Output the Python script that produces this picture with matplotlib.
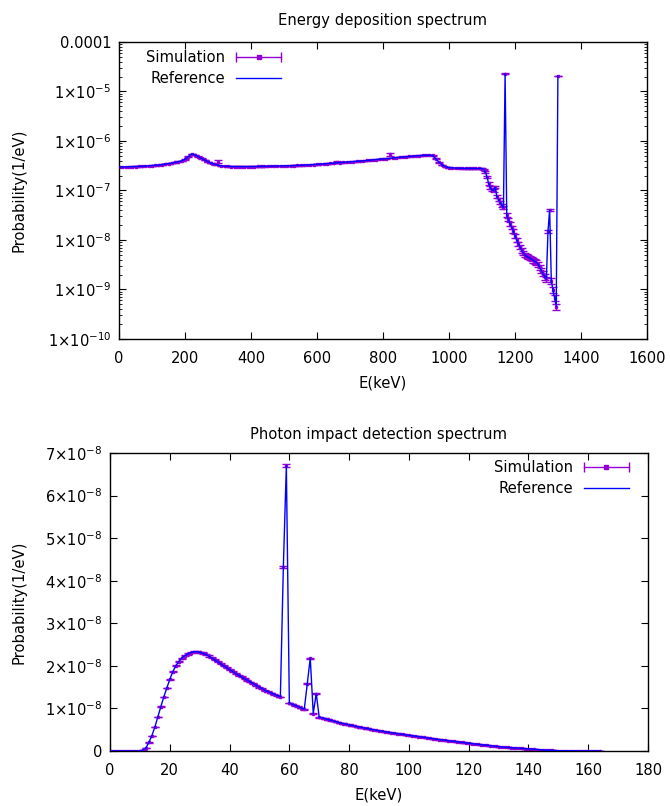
import numpy as np
import matplotlib
matplotlib.use("Agg")
import matplotlib.pyplot as plt
from matplotlib.lines import Line2D
from matplotlib.legend_handler import HandlerBase
from matplotlib.ticker import FixedLocator, FuncFormatter, LogLocator, NullFormatter

# ---------------- data: energy deposition spectrum (values in 1e-7 /eV) ----------------
dep_E_cont = list(range(0, 1101, 10))
dep_ref_cont = [
    3.00, 3.00, 3.01, 3.02, 3.03, 3.05, 3.07, 3.09, 3.12, 3.15,
    3.19, 3.23, 3.28, 3.34, 3.41, 3.49, 3.58, 3.69, 3.82, 3.98,
    4.25, 4.85, 5.45, 5.25, 4.85, 4.45, 4.10, 3.80, 3.55, 3.38,
    3.25, 3.16, 3.10, 3.07, 3.05, 3.04, 3.03, 3.03, 3.03, 3.03,
    3.04, 3.05, 3.06, 3.07, 3.08, 3.09, 3.10, 3.11, 3.12, 3.13,
    3.14, 3.15, 3.17, 3.19, 3.21, 3.23, 3.25, 3.28, 3.31, 3.34,
    3.37, 3.41, 3.45, 3.49, 3.53, 3.57, 3.61, 3.65, 3.70, 3.74,
    3.78, 3.83, 3.88, 3.93, 3.98, 4.04, 4.10, 4.16, 4.22, 4.28,
    4.35, 4.42, 4.49, 4.56, 4.63, 4.70, 4.77, 4.84, 4.90, 4.96,
    5.02, 5.07, 5.12, 5.16, 5.18, 5.10, 4.40, 3.70, 3.25, 3.00,
    2.90, 2.86, 2.83, 2.82, 2.81, 2.80, 2.80, 2.80, 2.80, 2.79,
    2.78,
]
dep_E_tail = [1105, 1110, 1115, 1120, 1125, 1130, 1135, 1140, 1145, 1150,
              1155, 1160, 1165, 1170, 1175, 1180, 1185, 1190, 1195, 1200,
              1205, 1210, 1215, 1220, 1225, 1230, 1235, 1240, 1245, 1250,
              1255, 1260, 1265, 1270, 1275, 1280, 1285, 1290, 1295, 1300,
              1305, 1310, 1315, 1320, 1325, 1330]
dep_ref_tail = [2.70, 2.40, 1.90, 1.40, 1.15, 1.02, 1.00, 1.17, 0.75, 0.65,
                0.57, 0.50, 0.45, 230.0, 0.32, 0.26, 0.21, 0.18, 0.15, 0.12,
                0.10, 0.085, 0.072, 0.062, 0.055, 0.050, 0.047, 0.045, 0.043, 0.041,
                0.039, 0.037, 0.035, 0.032, 0.028, 0.024, 0.021, 0.018, 0.016, 0.15,
                0.41, 0.015, 0.0098, 0.0068, 0.0045, 206.0]
dep_rel_err_cont = 0.01
dep_rel_err_tail = [0.03, 0.04, 0.05, 0.06, 0.06, 0.06, 0.07, 0.06, 0.07, 0.07,
                    0.07, 0.08, 0.08, 0.02, 0.08, 0.08, 0.08, 0.09, 0.09, 0.09,
                    0.09, 0.09, 0.10, 0.10, 0.10, 0.10, 0.10, 0.10, 0.10, 0.10,
                    0.10, 0.10, 0.11, 0.11, 0.11, 0.11, 0.12, 0.12, 0.12, 0.06,
                    0.05, 0.12, 0.12, 0.13, 0.14, 0.02]
# simulation points that sit off the reference curve
dep_out_E = [300, 660, 820]
dep_out_sim = [3.80, 3.80, 5.40]
dep_out_err = [0.25, 0.20, 0.35]

# ---------------- data: photon impact detection spectrum (values in 1e-8 /eV) ----------------
imp_E = list(range(0, 165))
imp_ref = [
    0, 0, 0, 0, 0, 0, 0, 0, 0, 0,
    0.0, 0.02, 0.07, 0.20, 0.36, 0.56, 0.80, 1.04, 1.27, 1.48,
    1.68, 1.86, 2.00, 2.10, 2.18, 2.24, 2.28, 2.31, 2.33, 2.33,
    2.32, 2.30, 2.27, 2.23, 2.19, 2.14, 2.10, 2.05, 2.00, 1.96,
    1.91, 1.87, 1.82, 1.78, 1.74, 1.70, 1.66, 1.62, 1.58, 1.54,
    1.50, 1.46, 1.42, 1.39, 1.36, 1.33, 1.30, 1.27, 4.33, 6.70,
    1.13, 1.10, 1.07, 1.04, 1.01, 0.98, 1.58, 2.18, 0.88, 1.35,
    0.79, 0.78, 0.76, 0.74, 0.72, 0.70, 0.68, 0.66, 0.645, 0.63,
    0.615, 0.60, 0.585, 0.57, 0.555, 0.54, 0.53, 0.515, 0.50, 0.49,
    0.475, 0.465, 0.45, 0.44, 0.43, 0.42, 0.41, 0.40, 0.39, 0.38,
    0.37, 0.36, 0.35, 0.34, 0.33, 0.32, 0.31, 0.30, 0.29, 0.28,
    0.27, 0.26, 0.255, 0.245, 0.235, 0.225, 0.22, 0.21, 0.20, 0.19,
    0.185, 0.175, 0.165, 0.16, 0.15, 0.14, 0.135, 0.125, 0.12, 0.11,
    0.105, 0.095, 0.09, 0.085, 0.08, 0.075, 0.07, 0.065, 0.06, 0.055,
    0.05, 0.045, 0.04, 0.035, 0.03, 0.025, 0.02, 0.016, 0.013, 0.01,
    0.008, 0.006, 0.005, 0.004, 0.003, 0.002, 0.002, 0.001, 0.001, 0.001,
    0.0005, 0.0005, 0.0, 0.0, 0.0,
]
imp_rel_err = 0.006

SIM_COLOR = "#9400d3"
REF_COLOR = "blue"
FS = 10.6


class ErrorbarKey(HandlerBase):
    # gnuplot style key sample: horizontal bar with end caps and a dot
    def create_artists(self, legend, orig, xdescent, ydescent, width, height, fontsize, trans):
        y = height / 2 - ydescent
        x0, x1 = -xdescent, -xdescent + width
        bar = Line2D([x0, x1], [y, y], color=SIM_COLOR, lw=1, transform=trans)
        caps = Line2D([x0, x1], [y, y], ls="none", marker="|", ms=7, mew=1,
                      color=SIM_COLOR, transform=trans)
        dot = Line2D([(x0 + x1) / 2], [y], ls="none", marker="s", ms=2.2,
                     color=SIM_COLOR, transform=trans)
        return [bar, caps, dot]


def style_axes(ax):
    ax.tick_params(which="both", direction="in", top=True, right=True, labelsize=FS,
                   colors="black")
    ax.tick_params(which="major", length=5, width=0.8)
    ax.tick_params(which="minor", length=2.5, width=0.6)
    ax.tick_params(axis="x", which="major", pad=8.5)
    ax.tick_params(axis="y", which="major", pad=5.5)
    for s in ax.spines.values():
        s.set_linewidth(1.0)


def add_legend(ax, sim_handle, ref_handle, loc, anchor):
    ax.legend([sim_handle, ref_handle], ["Simulation", "Reference"], loc=loc,
              bbox_to_anchor=anchor, frameon=False, markerfirst=False, fontsize=FS,
              handlelength=3.1, handletextpad=0.7, labelspacing=0.4,
              borderpad=0, borderaxespad=0,
              handler_map={sim_handle: ErrorbarKey()})


plt.rcParams["font.family"] = ["DejaVu Sans"]
fig = plt.figure(figsize=(6.7, 8.06), dpi=100)

# ---------------- top: energy deposition ----------------
ax1 = fig.add_axes([119 / 670, 1 - 339 / 806, 528 / 670, 297 / 806])
E1 = np.array(dep_E_cont + dep_E_tail, dtype=float)
ref1 = np.array(dep_ref_cont + dep_ref_tail) * 1e-7
sim1 = ref1.copy()
err1 = ref1 * np.array([dep_rel_err_cont] * len(dep_E_cont) + dep_rel_err_tail)
for e, v, d in zip(dep_out_E, dep_out_sim, dep_out_err):
    i = dep_E_cont.index(e)
    sim1[i] = v * 1e-7
    err1[i] = d * 1e-7

ax1.errorbar(E1, sim1, yerr=err1, fmt="s", ms=1.6, color=SIM_COLOR, ecolor=SIM_COLOR,
             elinewidth=1, capsize=3, capthick=1, zorder=2)
ax1.plot(E1, ref1, color=REF_COLOR, lw=1, zorder=3)
ax1.set_yscale("log")
ax1.set_xlim(0, 1600)
ax1.set_ylim(1e-10, 1e-4)
ax1.xaxis.set_major_locator(FixedLocator(np.arange(0, 1601, 200)))
ax1.yaxis.set_major_locator(LogLocator(base=10, numticks=20))
ax1.yaxis.set_minor_locator(LogLocator(base=10, subs=np.arange(2, 10), numticks=100))
ax1.yaxis.set_minor_formatter(NullFormatter())


def log_fmt(v, pos):
    e = int(round(np.log10(v)))
    if e == -4:
        return "0.0001"
    return r"1$\times$10$^{%d}$" % e


ax1.yaxis.set_major_formatter(FuncFormatter(log_fmt))
style_axes(ax1)
ax1.set_title("Energy deposition spectrum", fontsize=FS, pad=12)
ax1.set_xlabel("E(keV)", fontsize=FS, labelpad=7)
ax1.set_ylabel("Probability(1/eV)", fontsize=FS)
ax1.yaxis.set_label_coords(-0.176, 0.5)

h_sim1 = Line2D([], [], color=SIM_COLOR)
h_ref1 = Line2D([], [], color=REF_COLOR, lw=1)
add_legend(ax1, h_sim1, h_ref1, "upper left", (0.052, 0.972))

# ---------------- bottom: photon impact detection ----------------
ax2 = fig.add_axes([110 / 670, 1 - 751 / 806, 538 / 670, 298 / 806])
E2 = np.array(imp_E, dtype=float)
ref2 = np.array(imp_ref) * 1e-8
err2 = ref2 * imp_rel_err

ax2.errorbar(E2, ref2, yerr=err2, fmt="s", ms=1.6, color=SIM_COLOR, ecolor=SIM_COLOR,
             elinewidth=1, capsize=3, capthick=1, zorder=2)
ax2.plot(E2, ref2, color=REF_COLOR, lw=1, zorder=3)
ax2.set_xlim(0, 180)
ax2.set_ylim(0, 7e-8)
ax2.xaxis.set_major_locator(FixedLocator(np.arange(0, 181, 20)))
ax2.yaxis.set_major_locator(FixedLocator(np.arange(0, 8) * 1e-8))


def lin_fmt(v, pos):
    n = int(round(v / 1e-8))
    if n == 0:
        return "0"
    return r"%d$\times$10$^{-8}$" % n


ax2.yaxis.set_major_formatter(FuncFormatter(lin_fmt))
style_axes(ax2)
ax2.set_title("Photon impact detection spectrum", fontsize=FS, pad=10)
ax2.set_xlabel("E(keV)", fontsize=FS, labelpad=7)
ax2.set_ylabel("Probability(1/eV)", fontsize=FS)
ax2.yaxis.set_label_coords(-0.156, 0.5)

h_sim2 = Line2D([], [], color=SIM_COLOR)
h_ref2 = Line2D([], [], color=REF_COLOR, lw=1)
add_legend(ax2, h_sim2, h_ref2, "upper right", (0.965, 0.975))

fig.savefig("out.png", dpi=100)
